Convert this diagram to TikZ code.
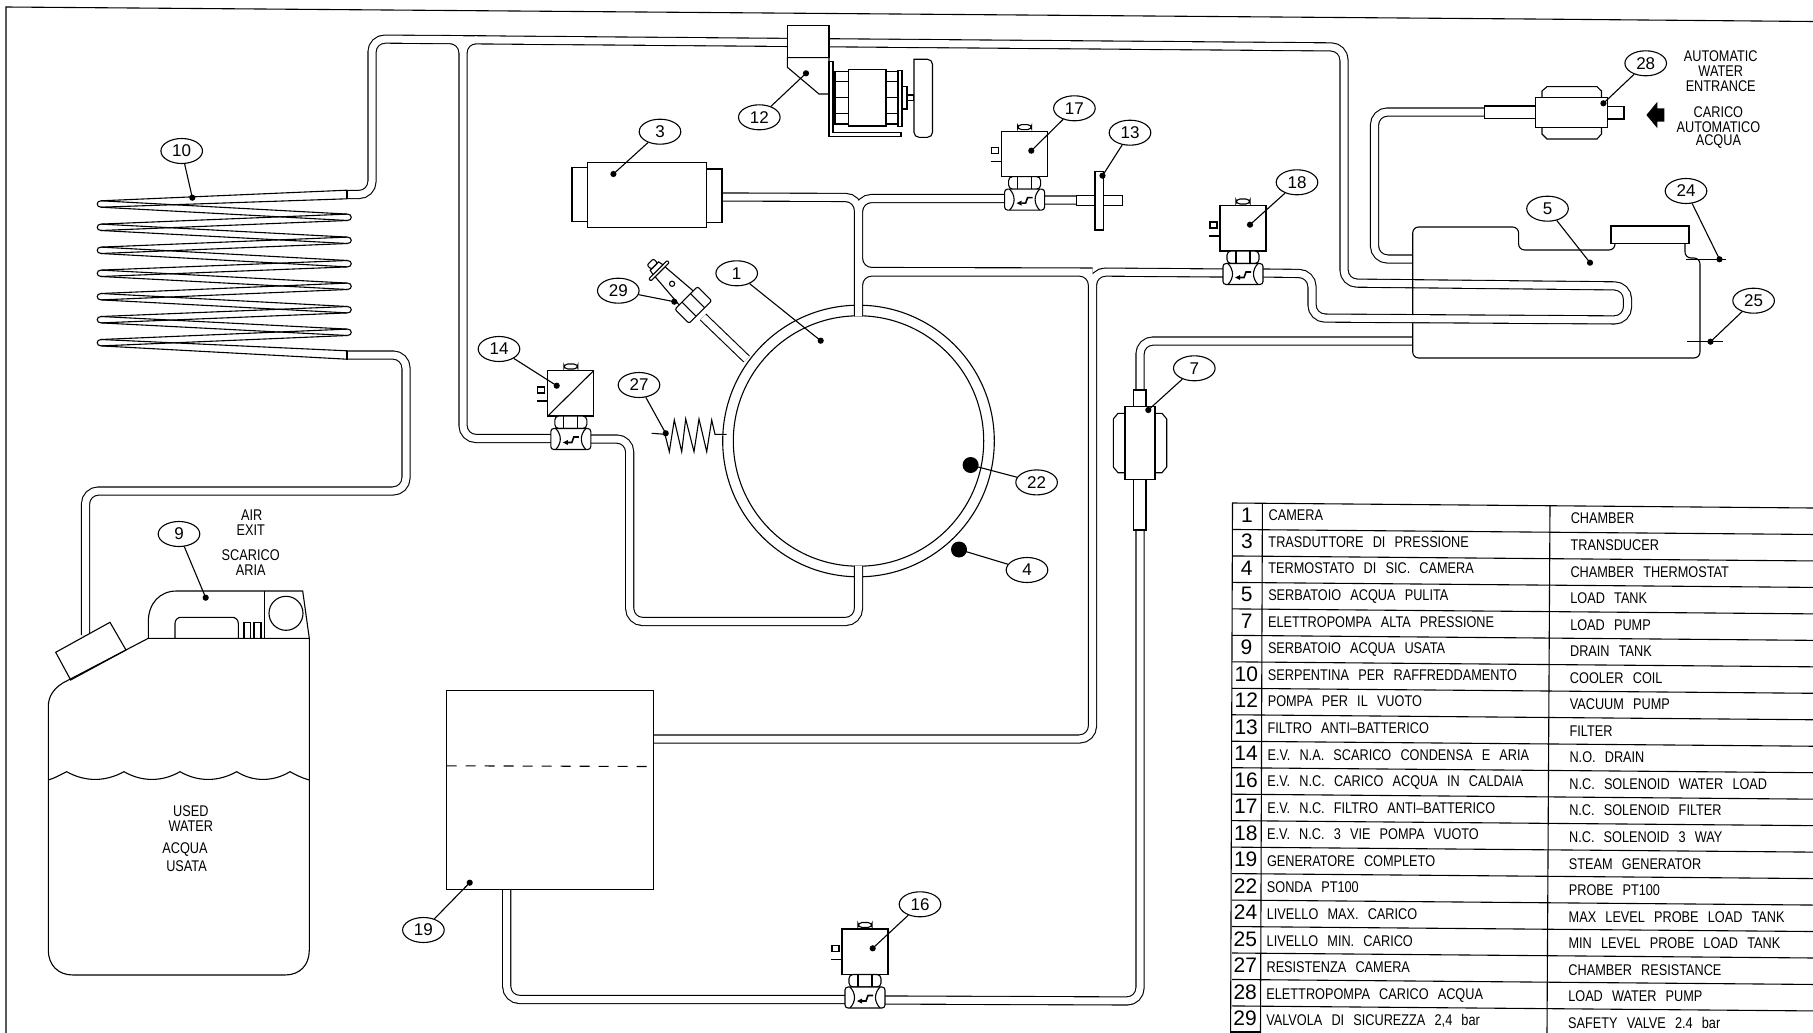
\documentclass[tikz,border=0pt]{standalone}
\usepackage{fontspec}
\setmainfont[FakeStretch=0.82,WordSpace=2.6]{Liberation Sans}
\newfontfamily\numfont{Liberation Sans}
\usetikzlibrary{shapes.geometric}
\tikzset{
  ln/.style={line width=1.1pt,draw=black},
  devc/.style={ln,fill=white},
  pipeout/.style={line width=9.2pt,draw=black,rounded corners=13pt},
  pipein/.style={line width=7pt,draw=white,rounded corners=13pt},
  labelell/.style={ellipse,ln,fill=white,minimum width=41.6pt,minimum height=25pt,inner sep=0pt,font=\numfont\fontsize{17}{17}\selectfont},
  dotn/.style={circle,fill=black,minimum size=6.2pt,inner sep=0pt},
  dotb/.style={circle,fill=black,minimum size=16pt,inner sep=0pt},
  lead/.style={line width=1.1pt,draw=black},
  txt/.style={font=\fontsize{15.5}{15.5}\selectfont,inner sep=0pt},
  rowtxt/.style={font=\fontsize{15.5}{15.5}\selectfont,inner sep=0pt,anchor=base west},
  rownum/.style={font=\numfont\fontsize{21}{21}\selectfont,inner sep=0pt,anchor=base}
}
\newcommand{\allpipes}{
  (347,194.5)--(372,194.5)--(372,39)--(1344,47)--(1344,283)--(1627.5,286)--(1627.5,320)--(1312,318)--(1312,273.6)--(1262,273)
  (420,39.4)--(463,39.6)--(463,438.5)--(552,438.5)
  (500,40)--(463,39.6)--(463,80)
  (590,439)--(629.7,439)--(629.7,621.5)--(858.5,621.5)--(858.5,565.7)
  (722,197)--(858.5,197.5)--(858.5,316.3)
  (1005,198.5)--(858.5,198.5)--(858.5,271.5)--(1092.5,272)--(1092.5,739)--(653.6,739)
  (858.5,316.3)--(858.5,272)--(1092.5,272)
  (1092.5,300)--(1092.5,272)--(1223,273)
  (506.7,889.6)--(506.7,999.5)--(845,999.5)
  (885,1000)--(1140,1001)--(1140,530)
  (1140,395)--(1140,341)--(1412.7,341)
  (1484.6,112)--(1374.5,112)--(1374.5,259)--(1412.7,259)
  (347,355)--(406,355)--(406,491)--(85.5,491)--(85.5,635)
  (1044,200)--(1077,200)
}
\newcommand{\solvalve}[3]{% x, y, extra
  \begin{scope}[shift={(#1,#2)}]
    \draw[devc,rounded corners=4pt] (-7,-75)--(-7,-70)--(7,-70)--(7,-75)--cycle;
    \draw[devc] (-33,-52) rectangle (-26,-46);
    \draw[ln] (-34,-38)--(-23,-38);
    \draw[devc] (-23,-68.5) rectangle (23,-23);
    #3
    \draw[devc,rounded corners=4pt] (-16,-23) rectangle (16,-10.5);
    \draw[ln] (-7,-23)--(-7,-10.5) (7,-23)--(7,-10.5);
    \draw[devc,rounded corners=3pt] (-20,-10.5) rectangle (20,10.5);
    \draw[ln] (-15,-10.5) .. controls (-9,-4) and (-9,4) .. (-15,10.5);
    \draw[ln] (15,-10.5) .. controls (9,-4) and (9,4) .. (15,10.5);
    \fill (-8,3.5)--(-3,1)--(-3,6)--cycle;
    \draw[line width=1.6pt] (-3,3.5)--(1,3.5)--(3,-2)--(8,-2);
  \end{scope}
}
\begin{document}
\begin{tikzpicture}[x=1pt,y=-1pt]
\useasboundingbox (0,0) rectangle (1813,1033);
\fill[white] (0,0) rectangle (1813,1033);
% sheet edges
\draw[ln] (6,1033)--(6,7)--(1530,19)--(1813,21.5);
% chamber
\draw[line width=9.2pt,draw=black] (703,317)--(746.6,359);
\draw[line width=7pt,draw=white] (703,317)--(746.6,359);
\draw[ln] (858.5,441) circle[radius=135.8pt];
\draw[ln] (858.5,441) circle[radius=125.2pt];
% pipes
\draw[pipeout] \allpipes;
\draw[pipein] \allpipes;
% coil
\foreach \xa/\ya/\xb/\yb in {101/204/347.5/217.3,101/227.3/347.5/217.3,101/227.3/347.5/240.3,101/250.3/347.5/240.3,101/250.3/347.5/263.7,101/273.3/347.5/263.7,101/273.3/347.5/286.3,101/296.7/347.5/286.3,101/296.7/347.5/309.7,101/319.7/347.5/309.7,101/319.7/347.5/332.3,101/342.7/347.5/332.3}{
  \draw[ln] (\xa,\ya-3.2)--(\xb,\yb-3.2) (\xa,\ya+3.2)--(\xb,\yb+3.2);
}
\foreach \ya in {204,227.3,250.3,273.3,296.7,319.7,342.7}{
  \draw[ln] (101,\ya-3.2) .. controls (96,\ya-3.2) and (96,\ya+3.2) .. (101,\ya+3.2);
}
\foreach \ya in {217.3,240.3,263.7,286.3,309.7,332.3}{
  \draw[ln] (347.5,\ya-3.2) .. controls (352.5,\ya-3.2) and (352.5,\ya+3.2) .. (347.5,\ya+3.2);
}
\draw[ln] (101,200.8)--(347,190.2) (101,207.2)--(347,198.8);
\draw[ln] (101,345.9)--(347,359.2) (101,339.5)--(347,350.8);
\draw[ln] (347,190)--(347,199) (347,350.5)--(347,359.5);
% spring 27
\draw[ln] (651.7,433.3)--(665,434.3)--(669.3,451.7)--(674.3,420)--(681.7,451.7)--(685.7,419)--(694,451.7)--(699,419)--(706.7,451.7)--(711.7,420)--(715,434.3)--(726.7,434.3);
% valve 29
\begin{scope}[shift={(693.3,305)},rotate=135]
  \draw[devc] (9,-10)--(47,-7)--(47,7)--(9,10)--cycle;
  \draw[ln] (30,0) circle[radius=2.6pt];
  \draw[devc,rounded corners=1pt] (47,-13) rectangle (50,13);
  \draw[devc] (50,-7)--(55,-6)--(55,6)--(50,7)--cycle;
  \draw[devc,rounded corners=2pt] (55,-4.5) rectangle (61,4.5);
  \draw[devc,rounded corners=2pt] (-10,-16) rectangle (10,16);
  \draw[ln] (-10,-6)--(10,-6) (-10,6)--(10,6);
\end{scope}
% transducer 3
\draw[devc] (572,167.7) rectangle (587.7,221.7);
\draw[devc] (706.3,169) rectangle (722,222.3);
\draw[devc] (587.7,162.7) rectangle (706.3,227.7);
% vacuum pump 12
\draw[devc] (787.4,25.7) rectangle (829,57.7);
\draw[devc] (787.4,57.7)--(787.4,67.3)--(819,94)--(829,94)--(829,57.7)--cycle;
\draw[devc] (829,61.7)--(829,136.7)--(901,136.7)--(901,132.7)--(833,132.7)--(833,61.7)--cycle;
\foreach \xa/\xb in {835/848.7,886/898}{
  \draw[devc] (\xa,71.7) rectangle (\xb,124);
  \draw[ln] (\xa,81.7)--(\xb,81.7) (\xa,97.7)--(\xb,97.7) (\xa,113.3)--(\xb,113.3);
}
\draw[devc] (848.7,69.3) rectangle (886,126);
\draw[devc] (898,70.7) rectangle (902,126.7);
\draw[devc] (902,86.7) rectangle (907,109);
\draw[devc] (907,95) rectangle (914,100.7);
\draw[devc,rounded corners=5pt] (914,59.3) -- (932.5,59.3) -- (932.5,137.3) -- (914,137.3) [sharp corners] -- cycle;
% filter 13
\draw[devc] (1076.8,195.7) rectangle (1122.3,205.7);
\draw[devc] (1095,171.7) rectangle (1103.7,230);
% solenoid valves
\solvalve{570.8}{439}{\draw[ln] (-23,-23)--(23,-68.5);}
\solvalve{1024.6}{199.6}{}
\solvalve{1243}{274}{}
\solvalve{865}{997.5}{}
% load tank 5
\draw[ln,rounded corners=6pt] (1412.7,315)--(1412.7,227)--(1518.6,227)--(1518.6,250)--(1615,250)--(1615,240);
\draw[ln,rounded corners=6pt] (1685,240)--(1685,258)--(1700,258)--(1700,358)--(1412.7,358)--(1412.7,323);
\draw[devc] (1611,226) rectangle (1689,243.3);
\draw[ln] (1686,259.3)--(1726,259.3);
\draw[ln] (1687,341.7)--(1723,341.7);
% water pump 28
\draw[devc] (1607,106.7) rectangle (1624,119);
\draw[devc] (1484.6,106) rectangle (1535.4,118.3);
\draw[devc] (1542,97.3)--(1542,91)--(1547,86.7)--(1597,86.7)--(1601.5,91)--(1601.5,97.3);
\draw[devc] (1542,127.3)--(1542,134)--(1547,139)--(1597,139)--(1601.5,134)--(1601.5,127.3);
\draw[devc] (1535.4,97.3) rectangle (1607.4,127.3);
\fill (1646.4,115)--(1657.4,101.7)--(1657.4,108.3)--(1664.4,108.3)--(1664.4,121.7)--(1657.4,121.7)--(1657.4,128.3)--cycle;
% load pump 7
\draw[devc] (1133.3,390) rectangle (1146,406.7);
\draw[devc] (1133.3,479.3) rectangle (1146,530);
\draw[devc] (1125,413.3)--(1118,413.3)--(1113.3,419)--(1113.3,467)--(1118,472.7)--(1125,472.7);
\draw[devc] (1155,413.3)--(1162,413.3)--(1166.7,419)--(1166.7,467)--(1162,472.7)--(1155,472.7);
\draw[devc] (1125,406.7) rectangle (1155,479.3);
% generator 19
\draw[devc] (446.5,690.6) rectangle (653.6,889.6);
\draw[ln,dash pattern=on 10pt off 9pt] (446.5,765.8)--(653.6,766.5);
% drain tank 9
\draw[devc] (55.7,652.3)--(110,622.3)--(126,650)--(70.7,680)--cycle;
\draw[ln] (148.3,638.3)--(148.3,622) .. controls (148.3,603) and (160,591) .. (176.7,591) -- (302.7,591) -- (309.3,638.3);
\draw[ln] (264.3,591)--(264.3,638.3);
\draw[ln] (286,613.3) circle[radius=17pt];
\draw[ln,rounded corners=6pt] (175,638.3)--(175,617.3)--(238.3,617.3)--(238.3,638.3);
\draw[ln] (244,638.3)--(244,622.7)--(250.7,622.7)--(250.7,638.3);
\draw[ln] (254,638.3)--(254,622.7)--(261,622.7)--(261,638.3);
\draw[ln] (63.3,682.7) .. controls (53,689) and (48.3,697) .. (48.3,706.7) -- (48.3,950) .. controls (48.3,965) and (58,975) .. (73,975) -- (285,975) .. controls (300,975) and (309.3,965) .. (309.3,950) -- (309.3,638.3) -- (148.3,638.3) -- cycle;
\draw[ln] (48.3,780) .. controls (55,778) and (60,775) .. (66.7,771.7) .. controls (85,782) and (105,782) .. (124,771.7) .. controls (142,782) and (162,782) .. (180,771.7) .. controls (198,782) and (218,782) .. (236.7,771.7) .. controls (253,782) and (273,782) .. (290,771.7) .. controls (296,775) and (302,778) .. (309.3,780);
% callouts
\newcommand{\callout}[6][dotn]{%
  \node[labelell] (L#2) at (#3,#4) {#2};
  \node[#1] (D#2) at (#5,#6) {};
  \draw[lead] (L#2)--(D#2.center);
}
\callout{1}{736.7}{273.3}{820.7}{340.7}
\callout{3}{660}{131.7}{613.4}{174}
\callout[dotb]{4}{1027}{570}{959}{549.5}
\callout{5}{1547.5}{208.7}{1590}{262.7}
\callout{7}{1194.3}{368.3}{1148.3}{410}
\callout{9}{179}{534}{205.7}{597.7}
\callout{10}{181.7}{151}{192.3}{197.7}
\callout{12}{759.3}{117.3}{806}{73.3}
\callout{13}{1130}{132.7}{1102.5}{175.7}
\callout{14}{499}{349}{556.7}{385.7}
\callout{16}{920}{904.3}{872.7}{948.3}
\callout{17}{1074.4}{108.3}{1031.3}{150.7}
\callout{18}{1297}{182.3}{1250}{224.7}
\callout{19}{423.4}{930}{469.7}{882.7}
\callout[dotb]{22}{1036.6}{482.4}{970.6}{465}
\callout{24}{1686}{191}{1719.5}{259.3}
\callout{25}{1753.6}{300.7}{1710.5}{341.7}
\callout{27}{639}{385}{665.7}{433.3}
\callout{28}{1645.7}{63.3}{1603.4}{103.3}
\callout{29}{618.3}{290.7}{674.3}{301.7}
% free texts
\node[txt] (t1) at (1720.7,55.7) {AUTOMATIC};
\node[txt] (t2) at (1720.7,70.7) {WATER};
\node[txt] (t3) at (1720.7,86) {ENTRANCE};
\node[txt] (t4) at (1718.4,112) {CARICO};
\node[txt] (t5) at (1718.4,127.3) {AUTOMATICO};
\node[txt] (t6) at (1718.4,142) {ACQUA};
\node[txt] (t7) at (251.7,515) {AIR};
\node[txt] (t8) at (250.7,530) {EXIT};
\node[txt] (t9) at (250.7,555) {SCARICO};
\node[txt] (t10) at (250.7,570) {ARIA};
\node[txt] (t11) at (190.9,811) {USED};
\node[txt] (t12) at (190.9,826) {WATER};
\node[txt] (t13) at (185,850) {ACQUA};
\node[txt] (t14) at (186.5,866) {USATA};
% table
\draw[ln] (1232.5,503)--(1230.6,1033);
\draw[ln] (1262.4,503)--(1260.5,1033);
\draw[ln] (1550,505)--(1547,1033);
\draw[ln] (1230.6,1032)--(1260.5,1032);
\foreach \n/\a/\b [count=\k from 0] in {
 1/{CAMERA}/{CHAMBER},
 3/{TRASDUTTORE DI PRESSIONE}/{TRANSDUCER},
 4/{TERMOSTATO DI SIC. CAMERA}/{CHAMBER THERMOSTAT},
 5/{SERBATOIO ACQUA PULITA}/{LOAD TANK},
 7/{ELETTROPOMPA ALTA PRESSIONE}/{LOAD PUMP},
 9/{SERBATOIO ACQUA USATA}/{DRAIN TANK},
 10/{SERPENTINA PER RAFFREDDAMENTO}/{COOLER COIL},
 12/{POMPA PER IL VUOTO}/{VACUUM PUMP},
 13/{FILTRO ANTI--BATTERICO}/{FILTER},
 14/{E.V. N.A. SCARICO CONDENSA E ARIA}/{N.O. DRAIN},
 16/{E.V. N.C. CARICO ACQUA IN CALDAIA}/{N.C. SOLENOID WATER LOAD},
 17/{E.V. N.C. FILTRO ANTI--BATTERICO}/{N.C. SOLENOID FILTER},
 18/{E.V. N.C. 3 VIE POMPA VUOTO}/{N.C. SOLENOID 3 WAY},
 19/{GENERATORE COMPLETO}/{STEAM GENERATOR},
 22/{SONDA PT100}/{PROBE PT100},
 24/{LIVELLO MAX. CARICO}/{MAX LEVEL PROBE LOAD TANK},
 25/{LIVELLO MIN. CARICO}/{MIN LEVEL PROBE LOAD TANK},
 27/{RESISTENZA CAMERA}/{CHAMBER RESISTANCE},
 28/{ELETTROPOMPA CARICO ACQUA}/{LOAD WATER PUMP},
 29/{VALVOLA DI SICUREZZA 2,4 bar}/{SAFETY VALVE 2.4 bar}}{
  \pgfmathsetmacro{\yl}{503+26.47*\k}
  \pgfmathsetmacro{\yr}{\yl+5}
  \draw[ln] (1232,\yl)--(1813,\yr);
  \pgfmathsetmacro{\yn}{515+26.5*\k+7.2}
  \pgfmathsetmacro{\ya}{515.3+26.58*\k+5.5}
  \pgfmathsetmacro{\yb}{518.4+26.55*\k+5.5}
  \pgfmathsetmacro{\xn}{1247-.1*\k}
  \pgfmathsetmacro{\xa}{1268.4-.12*\k}
  \pgfmathsetmacro{\xb}{1570.6-.14*\k}
  \node[rownum] (n\k) at (\xn,\yn) {\n};
  \node[rowtxt] (a\k) at (\xa,\ya) {\a};
  \node[rowtxt] (b\k) at (\xb,\yb) {\b};
}
\end{tikzpicture}
\end{document}
